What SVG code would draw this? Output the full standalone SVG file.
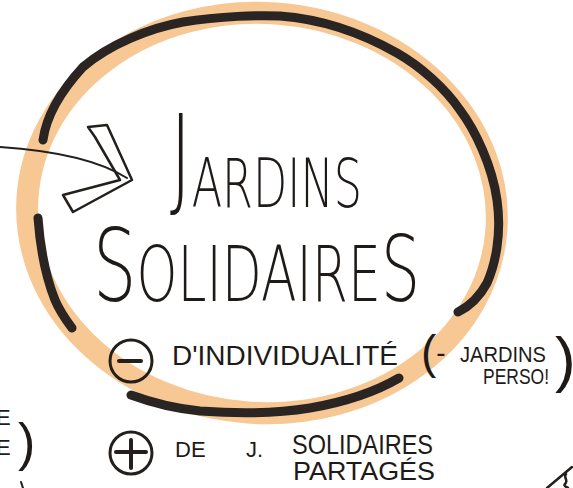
<svg xmlns="http://www.w3.org/2000/svg" width="573" height="488" viewBox="0 0 573 488">
<style>
.ink{fill:none;stroke:#231f1c;stroke-linecap:round;stroke-linejoin:round}
.mk{fill:none;stroke:#2a2522;stroke-width:9;stroke-linecap:round;stroke-linejoin:round}
.title{font-family:"DejaVu Sans","Liberation Sans",sans-serif;font-weight:200;fill:#1e1a18}
.hand{font-family:"Liberation Sans","DejaVu Sans",sans-serif;fill:#1e1a18}
</style>
<rect width="573" height="488" fill="#ffffff"/>
<g id="ring">
<ellipse cx="262" cy="213" rx="235" ry="200" transform="rotate(4 262 213)" fill="none" stroke="#f7c894" stroke-width="22"/>
<path class="mk" d="M43,140 C46,118 60,92 83,67 C110,44 150,28 183,22 C220,16 260,15 280,16 C320,19 360,32 397,53 C420,66 445,88 460,110 C475,130 492,165 497,200 C502,235 495,265 487,283 C480,296 470,306 458,312" stroke-width="9"/>
<path class="mk" d="M38,218 C40,245 45,275 55,300 C60,312 66,320 72,328" stroke-width="10"/>
<path class="mk" d="M131,395 C150,402 170,408 200,411 C240,414 280,413 310,408 C345,402 375,392 399,378" stroke-width="9"/>
</g>
<g id="arrow">
<path class="ink" stroke-width="2" d="M0,147 C45,150 95,158 127,178"/>
<path class="ink" stroke-width="2.5" d="M95,137 L88,127 L107,125 L132,180 L73,212 L63,195 L120,180 L95,137 Z"/>
</g>
<g id="title">
<text class="title" x="170" y="207" textLength="192" lengthAdjust="spacingAndGlyphs"><tspan font-size="112" dy="-12">J</tspan><tspan font-size="68" dy="12">ARDINS</tspan></text>
<text class="title" x="93" y="301" textLength="327" lengthAdjust="spacingAndGlyphs"><tspan font-size="100">S</tspan><tspan font-size="76">OLIDAIRE</tspan><tspan font-size="90">S</tspan></text>
</g>
<g id="minus">
<circle class="ink" cx="131" cy="361" r="21" stroke-width="3"/>
<path class="ink" stroke-width="4" d="M119,361 L141,361"/>
<text class="hand" x="172" y="365" font-size="28" textLength="226" lengthAdjust="spacingAndGlyphs">D'INDIVIDUALITÉ</text>
</g>
<g id="perso">
<text class="hand" x="421" y="368" font-size="46" font-weight="300">(<tspan font-size="28" dy="-6">-</tspan></text>
<text class="hand" x="460" y="362" font-size="22" textLength="86" lengthAdjust="spacingAndGlyphs">JARDINS</text>
<text class="hand" x="483" y="384" font-size="22" textLength="66" lengthAdjust="spacingAndGlyphs">PERSO!</text>
<text class="hand" x="555" y="380" font-size="62" font-weight="300">)</text>
</g>
<g id="plus">
<circle class="ink" cx="131" cy="453" r="21" stroke-width="3"/>
<path class="ink" stroke-width="4" d="M116,452 L146,452 M131,440 L131,468"/>
<text class="hand" font-size="22"><tspan x="175" y="457">DE</tspan><tspan x="246" y="457">J.</tspan><tspan x="292" y="454" font-size="28" textLength="141" lengthAdjust="spacingAndGlyphs">SOLIDAIRES</tspan></text>
<text class="hand" x="293" y="480" font-size="25" textLength="142" lengthAdjust="spacingAndGlyphs">PARTAGÉS</text>
</g>
<g id="edge">
<text class="hand" x="-4" y="425" font-size="22">E</text>
<text class="hand" x="-4" y="455" font-size="22">E<tspan x="18" y="460" font-size="52" font-weight="300">)</tspan></text>
<path class="ink" stroke-width="2" d="M21,482 L23,488"/>
<path class="ink" stroke-width="2.5" d="M547,488 L572,467 M566,474 C563,478 569,480 565,484 C563,486 567,487 568,488"/>
</g>
</svg>
